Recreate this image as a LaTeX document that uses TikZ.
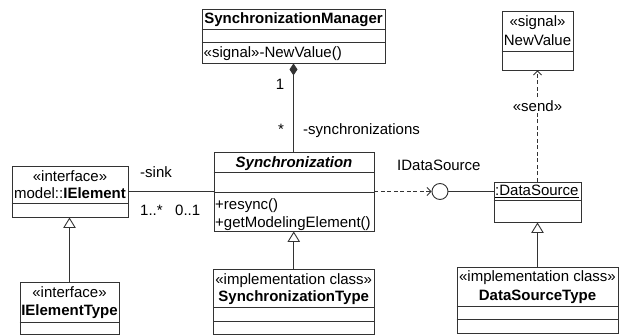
\documentclass[tikz,border=0pt]{standalone}
\usepackage{fontspec}
\setmainfont{Liberation Sans}
\usetikzlibrary{arrows.meta}
\tikzset{
  umlbox/.style={draw=black!80, line width=0.9pt, rectangle, inner sep=0pt, fill=white},
  cline/.style={draw=black!80, line width=0.9pt},
  conn/.style={draw=black!80, line width=0.9pt},
  dashconn/.style={conn, dash pattern=on 4pt off 2.5pt, -{Straight Barb[length=4pt,width=8pt]}},
  gen/.style={conn, -{Triangle[open,length=10.5pt,width=12.5pt,fill=white]}},
  comp/.style={conn, {Diamond[length=12pt,width=8pt]}-},
  txt/.style={inner sep=0pt, anchor=base},
  ltxt/.style={inner sep=0pt, anchor=base west},
}
\begin{document}
\begin{tikzpicture}[x=1pt,y=-1pt,font=\fontsize{15}{17}\selectfont]
\useasboundingbox (0,0) rectangle (619,335);

% SynchronizationManager
\node[umlbox, minimum width=183pt, minimum height=54pt] (sm) at (293.5,36) {};
\draw[cline] (sm.west |- 0,29) -- (sm.east |- 0,29);
\draw[cline] (sm.west |- 0,42) -- (sm.east |- 0,42);
\node[txt] (smt) at (293.5,23.5) {\textbf{SynchronizationManager}};
\node[ltxt] (smop) at (203.5,57.5) {«signal»-NewValue()};

% NewValue signal
\node[umlbox, minimum width=71pt, minimum height=59pt] (nv) at (537.5,40.5) {};
\draw[cline] (nv.west |- 0,51) -- (nv.east |- 0,51);
\node[txt] (nvs) at (537.5,26.5) {«signal»};
\node[txt] (nvt) at (537.5,45) {NewValue};

% Synchronization
\node[umlbox, minimum width=160pt, minimum height=79pt] (sync) at (294,191.5) {};
\draw[cline] (sync.west |- 0,172) -- (sync.east |- 0,172);
\draw[cline] (sync.west |- 0,192) -- (sync.east |- 0,192);
\node[txt] (synct) at (294,167) {\textbf{\textit{Synchronization}}};
\node[ltxt] (syncop1) at (215,209) {+resync()};
\node[ltxt] (syncop2) at (215,227) {+getModelingElement()};

% model::IElement
\node[umlbox, minimum width=116pt, minimum height=51pt] (ie) at (70,191.5) {};
\draw[cline] (ie.west |- 0,203.5) -- (ie.east |- 0,203.5);
\node[txt] (ies) at (70,181) {«interface»};
\node[txt] (iet1) at (70,198) {model::\textbf{IElement}};

% IElementType
\node[umlbox, minimum width=99pt, minimum height=52pt] (iet) at (69.5,308) {};
\draw[cline] (iet.west |- 0,322) -- (iet.east |- 0,322);
\node[txt] (iets) at (69.5,297.5) {«interface»};
\node[txt] (iett) at (69.5,315.5) {\textbf{IElementType}};

% SynchronizationType
\node[umlbox, minimum width=160.5pt, minimum height=65pt] (st) at (293.75,301.5) {};
\draw[cline] (st.west |- 0,307) -- (st.east |- 0,307);
\draw[cline] (st.west |- 0,321) -- (st.east |- 0,321);
\node[txt] (sts) at (293.75,284) {«implementation class»};
\node[txt] (stt) at (293.75,301.5) {\textbf{SynchronizationType}};

% :DataSource
\node[umlbox, minimum width=87pt, minimum height=40pt] (ds) at (537.5,202) {};
\draw[cline] (ds.west |- 0,200.5) -- (ds.east |- 0,200.5);
\node[ltxt] (dst1) at (495,195.5) {\underline{:DataSource}};

% DataSourceType
\node[umlbox, minimum width=161pt, minimum height=66.5pt] (dst) at (537.5,300.25) {};
\draw[cline] (dst.west |- 0,306.5) -- (dst.east |- 0,306.5);
\draw[cline] (dst.west |- 0,319.5) -- (dst.east |- 0,319.5);
\node[txt] (dsts) at (537.5,281.5) {«implementation class»};
\node[txt] (dstt) at (537.5,300) {\textbf{DataSourceType}};

% interface lollipop
\node[draw=black!80, line width=0.9pt, circle, minimum size=16pt, inner sep=0pt] (ci) at (440,191.5) {};

% connectors
\draw[comp] (sm.south) -- (sm.south |- sync.north);
\draw[conn] (ie.east) -- (sync.west);
\draw[dashconn] (sync.east) -- (ci.west);
\draw[conn] (ci.east) -- (ci.east -| ds.west);
\draw[dashconn] (ds.north) -- node[pos=0.68, fill=white, inner sep=1.5pt] (send) {«send»} (nv.south);
\draw[gen] (iet.north) -- (iet.north |- ie.south);
\draw[gen] (st.north) -- (st.north |- sync.south);
\draw[gen] (dst.north) -- (dst.north |- ds.south);

% labels
\node[txt] (m1) at (280,89.5) {1};
\node[txt] (m2) at (281,134) {*};
\node[ltxt] (rsync) at (303,134) {-synchronizations};
\node[ltxt] (rsink) at (140,177.5) {-sink};
\node[ltxt] (m3) at (140,215) {1..*};
\node[ltxt] (m4) at (175,215) {0..1};
\node[ltxt] (idsl) at (397,170.5) {IDataSource};
\end{tikzpicture}
\end{document}
